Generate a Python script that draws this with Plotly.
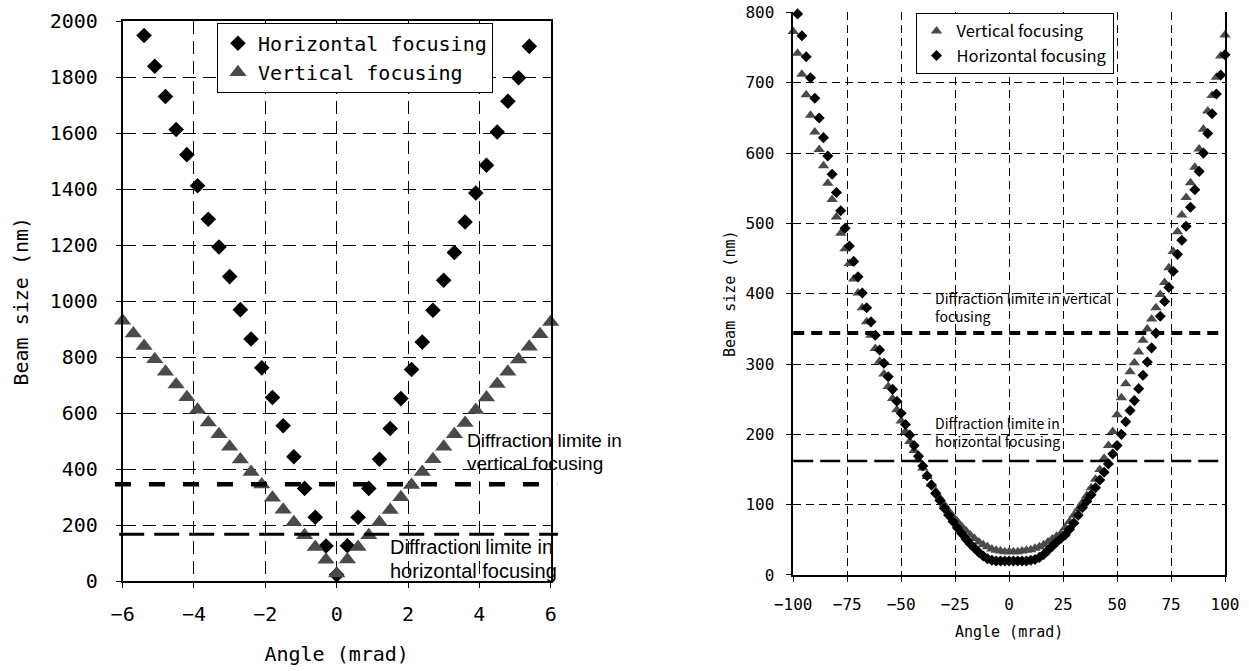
import plotly.graph_objects as go

MONO = "DejaVu Sans Mono"
SANS = "Noto Sans CJK JP"
NOTE = "Liberation Sans"
GRAY = "#4a4a4a"

# ---------------- left panel: -6 .. 6 mrad ----------------
left_h_angle = [-5.4, -5.1, -4.8, -4.5, -4.2, -3.9, -3.6, -3.3, -3.0, -2.7, -2.4, -2.1,
                -1.8, -1.5, -1.2, -0.9, -0.6, -0.3, 0.0, 0.3, 0.6, 0.9, 1.2, 1.5, 1.8,
                2.1, 2.4, 2.7, 3.0, 3.3, 3.6, 3.9, 4.2, 4.5, 4.8, 5.1, 5.4]
left_h_size = [1950, 1840, 1732, 1614, 1524, 1413, 1293, 1194, 1088, 970, 865, 762,
               656, 555, 444, 331, 228, 125, 22, 126, 228, 331, 435, 545, 652,
               756, 854, 968, 1075, 1174, 1283, 1387, 1486, 1605, 1715, 1799, 1911]

left_v_angle = [-6.0, -5.7, -5.4, -5.1, -4.8, -4.5, -4.2, -3.9, -3.6, -3.3, -3.0, -2.7,
                -2.4, -2.1, -1.8, -1.5, -1.2, -0.9, -0.6, -0.3, 0.0, 0.3, 0.6, 0.9,
                1.2, 1.5, 1.8, 2.1, 2.4, 2.7, 3.0, 3.3, 3.6, 3.9, 4.2, 4.5, 4.8, 5.1,
                5.4, 5.7, 6.0]
left_v_size = [930, 885, 840, 793, 748, 702, 657, 612, 567, 525, 480, 434,
               390, 345, 298, 255, 210, 164, 122, 76, 27, 77, 122, 164,
               210, 254, 299, 343, 390, 435, 480, 525, 565, 611, 656, 704, 748, 792,
               837, 882, 926]

left_limit_vertical = 346
left_limit_horizontal = 167

# ---------------- right panel: -100 .. 100 mrad ----------------
right_v_angle = [-100, -98, -96, -94, -92, -90, -88, -86, -84, -82, -80, -78, -76, -74,
                 -72, -70, -68, -66, -64, -62, -60, -58, -56, -54, -52, -50, -48, -46,
                 -44, -42, -40, -38, -36, -34, -32, -30, -28, -26, -24, -22, -20, -18,
                 -16, -14, -12, -10, -8, -6, -4, -2, 0, 2, 4, 6, 8, 10, 12, 14, 16, 18,
                 20, 22, 24, 26, 28, 30, 32, 34, 36, 38, 40, 42, 44, 46, 48, 50, 52, 54,
                 56, 58, 60, 62, 64, 66, 68, 70, 72, 74, 76, 78, 80, 82, 84, 86, 88, 90,
                 92, 94, 96, 98, 100]
right_v_size = [773, 742, 712, 683, 654, 630, 605, 582, 557, 534, 509, 486, 464, 443,
                421, 401, 380, 360, 341, 322, 304, 286, 268, 251, 235, 219, 204, 190,
                177, 164, 152, 140, 129, 119, 109, 100, 91, 83, 76, 69, 63, 57,
                52, 47, 43, 40, 37, 35, 34, 33, 33, 33, 33, 34, 35, 36, 38, 40, 43, 47,
                51, 55, 59, 67, 76, 85, 94, 103, 113, 124, 136, 150, 166, 184, 204, 228, 252, 272,
                289, 302, 317, 334, 350, 364, 380, 399, 416, 437, 460, 488, 512, 537, 558, 580, 606, 634,
                660, 682, 708, 738, 768]

right_h_angle = [-98, -96, -94, -92, -90, -88, -86, -84, -82, -80, -78, -76, -74,
                 -72, -70, -68, -66, -64, -62, -60, -58, -56, -54, -52, -50, -48, -46,
                 -44, -42, -40, -38, -36, -34, -32, -30, -28, -26, -24, -22, -20, -18,
                 -16, -14, -12, -10, -8, -6, -4, -2, 0, 2, 4, 6, 8, 10, 12, 14, 16, 18,
                 20, 22, 24, 26, 28, 30, 32, 34, 36, 38, 40, 42, 44, 46, 48, 50, 52, 54,
                 56, 58, 60, 62, 64, 66, 68, 70, 72, 74, 76, 78, 80, 82, 84, 86, 88, 90,
                 92, 94, 96, 98, 100]
right_h_size = [798, 767, 737, 707, 678, 650, 622, 596, 570, 544, 518, 493, 468,
                446, 424, 401, 380, 360, 341, 320, 301, 282, 264, 247, 230, 214, 199,
                184, 169, 155, 141, 128, 116, 106, 95, 85, 76, 67, 59, 51, 44,
                38, 32, 27, 23, 21, 20, 20, 20, 20, 20, 20, 20, 20, 21, 22, 25, 29, 35,
                41, 47, 52, 57, 65, 74, 85, 96, 105, 114, 124, 135, 146, 158, 172, 184, 200, 218,
                234, 248, 265, 284, 303, 323, 344, 368, 389, 409, 432, 456, 476, 496, 523, 548, 574, 600,
                628, 656, 684, 711, 740]

right_limit_vertical = 344
right_limit_horizontal = 162

fig = go.Figure()

# left panel series (diamonds first, triangles drawn on top)
fig.add_trace(go.Scatter(
    x=left_h_angle, y=left_h_size, mode="markers", name="Horizontal focusing",
    marker=dict(symbol="diamond", size=12, color="black"),
    xaxis="x", yaxis="y", legend="legend", cliponaxis=False))
fig.add_trace(go.Scatter(
    x=left_v_angle, y=left_v_size, mode="markers", name="Vertical focusing",
    marker=dict(symbol="triangle-up", size=15, color=GRAY),
    xaxis="x", yaxis="y", legend="legend", cliponaxis=False))

# right panel series (triangles first, diamonds drawn on top)
fig.add_trace(go.Scatter(
    x=right_v_angle, y=right_v_size, mode="markers", name="Vertical focusing",
    marker=dict(symbol="triangle-up", size=10, color=GRAY),
    xaxis="x2", yaxis="y2", legend="legend2", cliponaxis=False))
fig.add_trace(go.Scatter(
    x=right_h_angle, y=right_h_size, mode="markers", name="Horizontal focusing",
    marker=dict(symbol="diamond", size=8.5, color="black"),
    xaxis="x2", yaxis="y2", legend="legend2", cliponaxis=False))

# diffraction-limit lines
shapes = [
    dict(type="line", xref="x domain", yref="y", x0=-0.018, x1=1.015,
         y0=left_limit_vertical, y1=left_limit_vertical,
         line=dict(color="black", width=4.5, dash="16px,18px")),
    dict(type="line", xref="x domain", yref="y", x0=-0.008, x1=1.017,
         y0=left_limit_horizontal, y1=left_limit_horizontal,
         line=dict(color="black", width=3, dash="25px,10px")),
    dict(type="line", xref="x2 domain", yref="y2", x0=0, x1=1.004,
         y0=right_limit_vertical, y1=right_limit_vertical,
         line=dict(color="black", width=4, dash="11px,7px")),
    dict(type="line", xref="x2 domain", yref="y2", x0=0, x1=1.0,
         y0=right_limit_horizontal, y1=right_limit_horizontal,
         line=dict(color="black", width=2.5, dash="20px,7px")),
]


def note(xref, yref, x, y, text, family, size):
    return dict(xref=xref, yref=yref, x=x, y=y, xanchor="left", yanchor="middle",
                text=text, showarrow=False, align="left",
                font=dict(family=family, size=size, color="black"))


annotations = [
    # left panel labels, one line each
    note("x", "y", 3.60, 504, "Diffraction limite in", NOTE, 19),
    note("x", "y", 3.60, 421, "vertical focusing", NOTE, 19),
    note("x", "y", 1.44, 121, "Diffraction limite in", NOTE, 20),
    note("x", "y", 1.44, 35, "horizontal focusing", NOTE, 20),
    # right panel labels
    note("x2", "y2", -35.3, 381, "Diffraction limite in vertical<br>focusing", SANS, 14),
    note("x2", "y2", -35.3, 203, "Diffraction limite in<br>horizontal focusing", SANS, 14),
]

axis_common = dict(showgrid=True, gridcolor="black", gridwidth=1, zeroline=False,
                   showline=True, linecolor="black", linewidth=1.5, automargin=False,
                   ticks="outside", ticklen=5, tickcolor="black")

fig.update_layout(
    width=1249, height=671, autosize=False,
    margin=dict(l=0, r=0, t=0, b=0),
    paper_bgcolor="white", plot_bgcolor="white",
    font=dict(family=MONO, color="black"),
    shapes=shapes, annotations=annotations,
    xaxis=dict(domain=[0.0982, 0.4409], range=[-6, 6], dtick=2, anchor="y",
               mirror=True, griddash="13px,7px", ticklabelstandoff=9,
               tickfont=dict(family=MONO, size=20),
               title=dict(text="Angle (mrad)", font=dict(family=MONO, size=20), standoff=22),
               **axis_common),
    yaxis=dict(domain=[0.1341, 0.968], range=[0, 2000], dtick=200, anchor="x",
               mirror=True, griddash="13px,7px", ticklabelstandoff=14,
               tickfont=dict(family=MONO, size=20),
               title=dict(text="Beam size (nm)", font=dict(family=MONO, size=20), standoff=16),
               **axis_common),
    xaxis2=dict(domain=[0.6351, 0.9808], range=[-100, 100], dtick=25, anchor="y2",
                mirror=False, griddash="8px,5px", ticklabelstandoff=9,
                tickfont=dict(family=MONO, size=16),
                title=dict(text="Angle (mrad)", font=dict(family=MONO, size=15), standoff=14),
                **axis_common),
    yaxis2=dict(domain=[0.1431, 0.9814], range=[0, 800], dtick=100, anchor="x2",
                mirror=True, griddash="8px,5px", ticklabelstandoff=9,
                tickfont=dict(family=MONO, size=16),
                title=dict(text="Beam size (nm)", font=dict(family=MONO, size=15), standoff=6),
                **axis_common),
    legend=dict(x=0.1737, y=0.966, xanchor="left", yanchor="top",
                bgcolor="white", bordercolor="black", borderwidth=1,
                font=dict(family=MONO, size=20), itemwidth=30, tracegroupgap=0),
    legend2=dict(x=0.733, y=0.981, xanchor="left", yanchor="top",
                 bgcolor="white", bordercolor="black", borderwidth=1,
                 font=dict(family=SANS, size=16.5), itemwidth=30, tracegroupgap=0),
)

fig.write_html("out.html")
